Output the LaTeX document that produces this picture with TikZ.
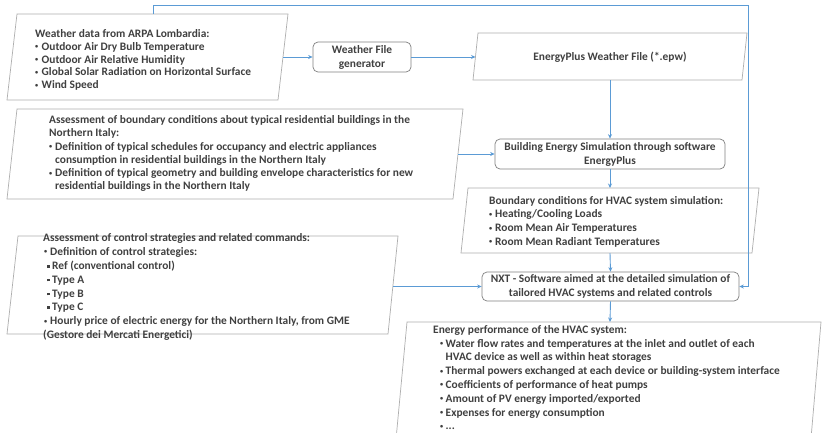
\documentclass[tikz,border=0pt]{standalone}
\usepackage{fontspec}
\usepackage{graphicx}
\setmainfont{Carlito}
\usetikzlibrary{arrows.meta}
\definecolor{txt}{HTML}{404040}
\definecolor{arr}{HTML}{5B9BD5}
\definecolor{pbox}{HTML}{AEAEAE}
\definecolor{rbox}{HTML}{808080}
\newcommand{\bu}[1]{\makebox[#1][l]{\raisebox{1.6pt}{\scalebox{0.55}{\textbullet}}}}
\newcommand{\sqb}{\makebox[5pt][l]{\raisebox{1.8pt}{\rule{2.8pt}{2.8pt}}}}
\begin{document}
\begin{tikzpicture}[x=1pt,y=-1pt,
  every node/.style={text=txt, font=\fontsize{11.4}{14}\selectfont\bfseries},
  para/.style={draw=pbox, line width=0.7pt},
  rbx/.style={draw=rbox, rounded corners=5pt, line width=0.7pt, fill=white, align=center, inner sep=0pt},
  tblock/.style={anchor=north west, align=left, inner sep=0pt},
  conn/.style={draw=arr, line width=0.9pt, -{Stealth[length=4.5pt,width=4pt]}}]
\useasboundingbox (0,0) rectangle (822,432);
\fill[white] (0,0) rectangle (822,432);

% parallelogram outlines
\draw[para] (17,14) -- (288,14) -- (278,100) -- (7,100) -- cycle;
\draw[para] (478,33) -- (747,33) -- (742,80) -- (473,80) -- cycle;
\draw[para] (17,109) -- (463,109) -- (453,199) -- (7,199) -- cycle;
\draw[para] (468,188) -- (759,188) -- (752,253) -- (461,253) -- cycle;
\draw[para] (18,236) -- (398,236) -- (388,334) -- (7,334) -- cycle;
\draw[para] (407,322) -- (821,322) -- (810,450) -- (395,450) -- cycle;

\coordinate (wd-e) at (283,57);
\coordinate (wd-n) at (153,14);
\coordinate (epw-w) at (475.5,57);
\coordinate (epw-s) at (610,80);
\coordinate (ab-e) at (458,154);
\coordinate (hv-n) at (610,188);
\coordinate (hv-s) at (610,253);
\coordinate (cs-e) at (393,286.5);
\coordinate (ep-n) at (610,322);
\coordinate (loop) at (748,5);

% texts
\node[tblock, font=\fontsize{11.4}{12.9}\selectfont\bfseries] (wd) at (35,29) {Weather data from ARPA Lombardia:\\
\bu{6.5pt}Outdoor Air Dry Bulb Temperature\\
\bu{6.5pt}Outdoor Air Relative Humidity\\
\bu{6.5pt}Global Solar Radiation on Horizontal Surface\\
\bu{6.5pt}Wind Speed};

\node (epw) at (610,57) {EnergyPlus Weather File (*.epw)};

\node[tblock, font=\fontsize{11.4}{13.3}\selectfont\bfseries] (ab) at (49,115.2) {Assessment of boundary conditions about typical residential buildings in the\\
Northern Italy:\\
\bu{6pt}Definition of typical schedules for occupancy and electric appliances\\
\hspace*{6pt}consumption in residential buildings in the Northern Italy\\
\bu{6pt}Definition of typical geometry and building envelope characteristics for new\\
\hspace*{6pt}residential buildings in the Northern Italy};

\node[tblock, font=\fontsize{11.4}{13.7}\selectfont\bfseries] (hv) at (489,196) {Boundary conditions for HVAC system simulation:\\
\bu{6pt}Heating/Cooling Loads\\
\bu{6pt}Room Mean Air Temperatures\\
\bu{6pt}Room Mean Radiant Temperatures};

\node[tblock, font=\fontsize{11.4}{13.85}\selectfont\bfseries] (cs) at (43,233.5) {Assessment of control strategies and related commands:\\
\hspace*{1pt}\bu{6pt}Definition of control strategies:\\
\hspace*{4pt}\sqb Ref (conventional control)\\
\hspace*{4pt}\sqb Type A\\
\hspace*{4pt}\sqb Type B\\
\hspace*{4pt}\sqb Type C\\
\hspace*{1pt}\bu{6pt}Hourly price of electric energy for the Northern Italy, from GME\\
(Gestore dei Mercati Energetici)};

\node[tblock, font=\fontsize{11.4}{13.8}\selectfont\bfseries] (ep) at (433,325) {Energy performance of the HVAC system:\\
\hspace*{7pt}\bu{5.5pt}Water flow rates and temperatures at the inlet and outlet of each\\
\hspace*{12.5pt}HVAC device as well as within heat storages\\
\hspace*{7pt}\bu{5.5pt}Thermal powers exchanged at each device or building-system interface\\
\hspace*{7pt}\bu{5.5pt}Coefficients of performance of heat pumps\\
\hspace*{7pt}\bu{5.5pt}Amount of PV energy imported/exported\\
\hspace*{7pt}\bu{5.5pt}Expenses for energy consumption\\
\hspace*{7pt}\bu{5.5pt}...};

% rounded process boxes
\node[rbx, minimum width=98pt, minimum height=30pt] (gen) at (362,57) {Weather File\\generator};
\node[rbx, minimum width=230pt, minimum height=30pt] (bes) at (610,154) {Building Energy Simulation through software\\EnergyPlus};
\node[rbx, minimum width=257pt, minimum height=29pt] (nxt) at (610.5,286.5) {NXT - Software aimed at the detailed simulation of\\tailored HVAC systems and related controls};

% connectors
\draw[conn] (wd-e) -- (gen.west);
\draw[conn] (gen.east) -- (epw-w);
\draw[conn] (epw-s) -- (bes.north);
\draw[conn] (ab-e) -- (bes.west);
\draw[conn] (bes.south) -- (hv-n);
\draw[conn] (hv-s) -- (nxt.north);
\draw[conn] (cs-e) -- (nxt.west);
\draw[conn] (wd-n) |- (loop) |- (nxt.east);
\draw[conn] (nxt.south) -- (ep-n);
\end{tikzpicture}
\end{document}
